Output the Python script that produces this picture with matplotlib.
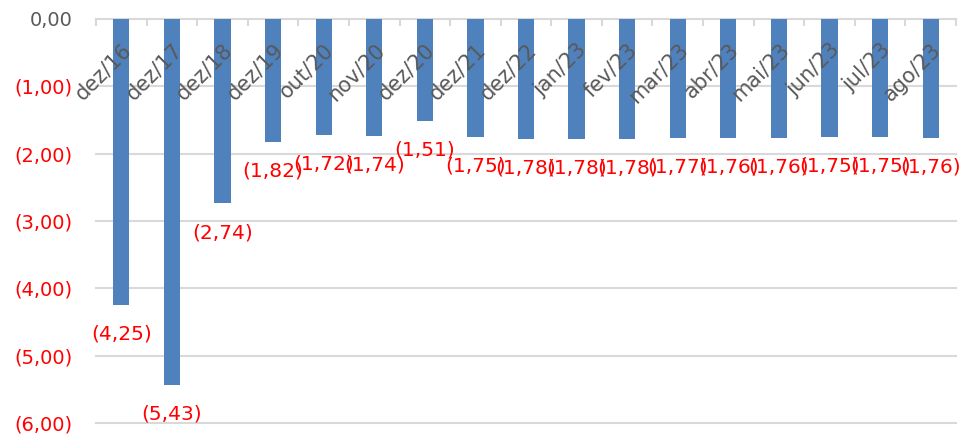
import matplotlib
matplotlib.use("Agg")
import matplotlib.pyplot as plt

categories = ["dez/16", "dez/17", "dez/18", "dez/19", "out/20", "nov/20", "dez/20",
              "dez/21", "dez/22", "jan/23", "fev/23", "mar/23", "abr/23", "mai/23",
              "jun/23", "jul/23", "ago/23"]
values = [-4.25, -5.43, -2.74, -1.82, -1.72, -1.74, -1.51, -1.75, -1.78, -1.78,
          -1.78, -1.77, -1.76, -1.76, -1.75, -1.75, -1.76]
yticks = [0, -1, -2, -3, -4, -5, -6]

FONT = "DejaVu Sans"
plt.rcParams['font.family'] = [FONT]
FS = 14

fig = plt.figure(figsize=(9.64, 4.36), dpi=100)
ax = fig.add_axes([96/964, 1 - 423/436, (956-96)/964, (423-19)/436])

x = list(range(len(categories)))
ax.bar(x, values, width=0.32, color="#4F81BD", zorder=3)

ax.set_xlim(-0.5, len(categories) - 0.5)
ax.set_ylim(-6, 0)

# gridlines
for t in yticks[1:]:
    ax.axhline(t, color="#D9D9D9", lw=1.5, zorder=1, clip_on=False)

for s in ["left", "right", "bottom"]:
    ax.spines[s].set_visible(False)
ax.spines["top"].set_color("#D9D9D9")
ax.spines["top"].set_linewidth(1.5)

ax.xaxis.tick_top()
ax.set_xticks([i - 0.5 for i in range(len(categories) + 1)])
ax.set_xticklabels([])
ax.tick_params(axis="x", direction="in", length=5, width=1.5, color="#D9D9D9")

ax.set_yticks(yticks)
ylabels = []
for t in yticks:
    ylabels.append("0,00" if t == 0 else "({:.2f})".format(abs(t)).replace(".", ","))
ax.set_yticklabels(ylabels, fontsize=FS)
ax.tick_params(axis="y", length=0, pad=17)
for lbl, t in zip(ax.get_yticklabels(), yticks):
    lbl.set_color("#595959" if t == 0 else "#FF0000")

# category labels
for i, c in enumerate(categories):
    ax.annotate(c, xy=(i, 0), xytext=(0, -15), textcoords="offset points",
                rotation=45, rotation_mode="anchor", ha="right", va="top",
                fontsize=15, color="#595959", zorder=4)

# value labels
for i, v in enumerate(values):
    ax.annotate("({:.2f})".format(abs(v)).replace(".", ","), xy=(i, v),
                xytext=(0, -21), textcoords="offset points",
                ha="center", va="center", fontsize=14.5, color="#FF0000", zorder=4)

fig.savefig("out.png", dpi=100)
